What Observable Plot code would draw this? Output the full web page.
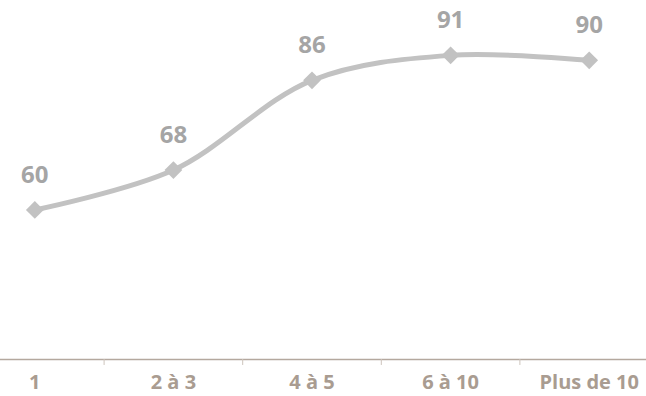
<!DOCTYPE html>
<html>
<head>
<meta charset="utf-8">
<script src="https://cdn.jsdelivr.net/npm/d3@7"></script>
<script src="https://cdn.jsdelivr.net/npm/@observablehq/plot@0.6"></script>
<style>
  html, body { margin: 0; padding: 0; background: #fff; overflow: hidden; }
  #chart svg { display: block; }
</style>
</head>
<body>
<div id="chart"></div>
<script>
const categories = ["1", "2 à 3", "4 à 5", "6 à 10", "Plus de 10"];
const values = [60, 68, 86, 91, 90];

const data = categories.map((c, i) => ({i, c, v: values[i]}));
const bounds = categories.slice(1).map((_, i) => i + 0.5);

const chart = Plot.plot({
  width: 646,
  height: 396,
  marginTop: 0,
  marginBottom: 37,
  marginLeft: 0,
  marginRight: 0,
  x: {type: "linear", domain: [-0.5, 4.5], range: [-35, 658], axis: null},
  y: {type: "linear", domain: [30, 100], range: [359, 10], axis: null},
  style: {fontFamily: "'Open Sans', sans-serif", background: "#fff"},
  marks: [
    Plot.ruleY([30], {stroke: "#b4a89e", strokeWidth: 1.3}),
    Plot.ruleX(bounds, {x: d => d, y1: 30, y2: 28.8, stroke: "#cdc4bc", strokeWidth: 1}),
    Plot.text(data, {x: "i", y: () => 30, text: "c", dy: 23, fill: "#a99c91", fontSize: 20, fontWeight: "bold"}),
    Plot.line(data, {x: "i", y: "v", stroke: "#c2c2c2", strokeWidth: 5, curve: "catmull-rom"}),
    Plot.dot(data, {x: "i", y: "v", symbol: "diamond2", r: 8, fill: "#c2c2c2", stroke: "none"}),
    Plot.text(data, {x: "i", y: "v", text: d => String(d.v), dy: -35, fill: "#a5a5a5", fontSize: 24, fontWeight: "bold"})
  ]
});
document.getElementById("chart").append(chart);
</script>
</body>
</html>
